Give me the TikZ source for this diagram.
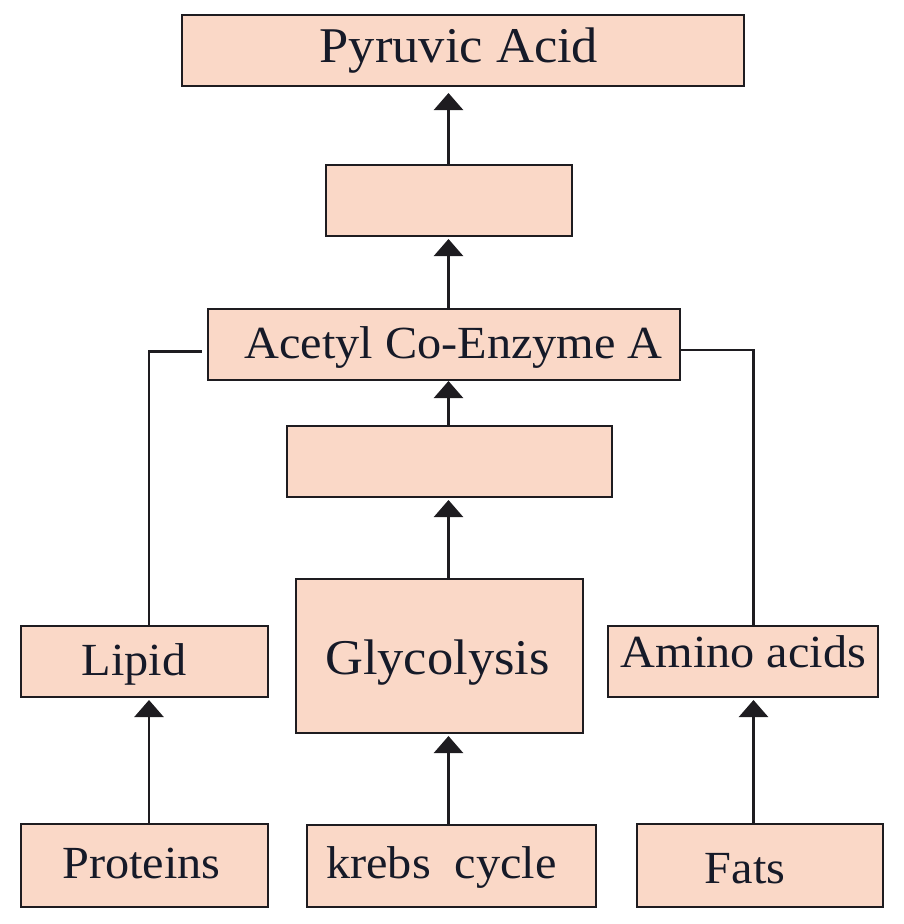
\documentclass[tikz,border=0pt]{standalone}
\usepackage{fontspec}
\setmainfont[FakeStretch=1.05]{Liberation Serif}
\usetikzlibrary{arrows.meta}
\definecolor{boxfill}{RGB}{250,216,199}
\definecolor{edge}{RGB}{30,28,32}
\definecolor{ink}{RGB}{22,26,40}
\begin{document}
\begin{tikzpicture}[x=1pt,y=-1pt,
  box/.style={draw=edge,line width=2pt,fill=boxfill,rectangle,inner sep=0pt},
  lbl/.style={anchor=base,inner sep=0pt,text=ink,font=\fontsize{46}{50}\selectfont},
  biglbl/.style={lbl,font=\fontsize{50}{54}\selectfont},
  arr/.style={draw=edge,line width=2.4pt,-{Triangle[width=29pt,length=17pt]}},
  link/.style={draw=edge,line width=2.2pt}]
\useasboundingbox (0,0) rectangle (904,924);
% boxes
\node[box,minimum width=562pt,minimum height=71pt] (pyr) at (463,50.5) {};
\node[box,minimum width=246pt,minimum height=71pt] (e1) at (449,200.5) {};
\node[box,minimum width=472pt,minimum height=71pt] (acetyl) at (444,344.5) {};
\node[box,minimum width=325pt,minimum height=71pt] (e2) at (449.5,461.5) {};
\node[box,minimum width=247pt,minimum height=71pt] (lipid) at (144.5,661.5) {};
\node[box,minimum width=287pt,minimum height=154pt] (gly) at (439.5,656) {};
\node[box,minimum width=270pt,minimum height=71pt] (amino) at (743,661.5) {};
\node[box,minimum width=247pt,minimum height=83pt] (prot) at (144.5,865.5) {};
\node[box,minimum width=289pt,minimum height=82pt] (krebs) at (451.5,866) {};
\node[box,minimum width=246pt,minimum height=83pt] (fats) at (760,865.5) {};
% labels
\node[biglbl] (tpyr) at (459,62) {Pyruvic Acid};
\node[lbl] (tacetyl) at (453.5,358) {Acetyl Co-Enzyme A};
\node[biglbl] (tgly) at (437.5,674) {Glycolysis};
\node[lbl] (tlipid) at (134,675) {Lipid};
\node[lbl] (tamino) at (743.5,667) {Amino acids};
\node[lbl] (tprot) at (141.5,878) {Proteins};
\node[lbl] (tkrebs) at (441.5,878) {krebs\ \ cycle};
\node[lbl] (tfats) at (745,883) {Fats};
% guide coordinates
\coordinate (spine) at (448.5,0);
\coordinate (lx) at (149,0);
\coordinate (rx) at (753.5,0);
% connectors
\draw[arr] (e1.north -| spine) -- ([yshift=-6pt]pyr.south -| spine);
\draw[arr] (acetyl.north -| spine) -- ([yshift=-2pt]e1.south -| spine);
\draw[arr] (e2.north -| spine) -- (acetyl.south -| spine);
\draw[arr] (gly.north -| spine) -- ([yshift=-2pt]e2.south -| spine);
\draw[arr] (krebs.north -| spine) -- ([yshift=-2pt]gly.south -| spine);
\draw[arr] (prot.north -| lx) -- ([yshift=-2pt]lipid.south -| lx);
\draw[arr] (fats.north -| rx) -- ([yshift=-2pt]amino.south -| rx);
\draw[link] (lipid.north -| lx) |- ([xshift=-5pt,yshift=-7pt]acetyl.west);
\draw[link] (amino.north -| rx) |- ([yshift=-5.5pt]acetyl.east);
\end{tikzpicture}
\end{document}
